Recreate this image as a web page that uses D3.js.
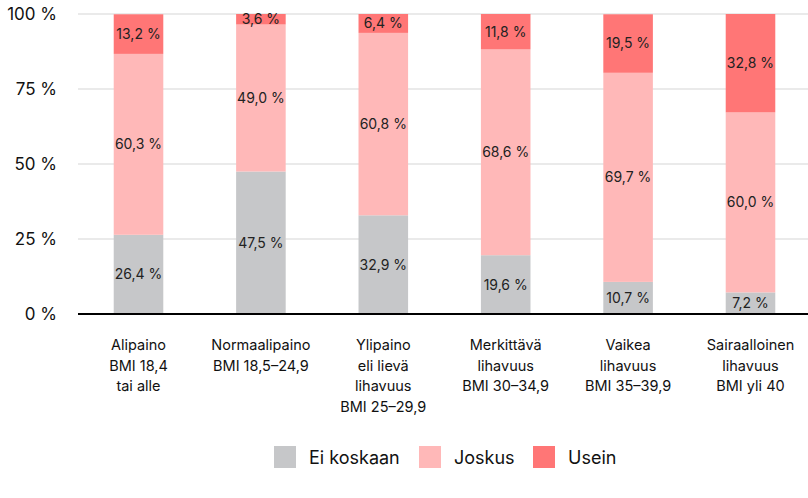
<!DOCTYPE html>
<html><head><meta charset="utf-8">
<script src="https://cdn.jsdelivr.net/npm/d3@7"></script>
<style>body{margin:0;background:#fff}svg{display:block}text{font-family:Inter,"Noto Sans",sans-serif}</style>
</head><body>
<svg id="c" width="808" height="498"></svg>
<script>
const categories = [
  ["Alipaino","BMI 18,4","tai alle"],
  ["Normaalipaino","BMI 18,5–24,9"],
  ["Ylipaino","eli lievä","lihavuus","BMI 25–29,9"],
  ["Merkittävä","lihavuus","BMI 30–34,9"],
  ["Vaikea","lihavuus","BMI 35–39,9"],
  ["Sairaalloinen","lihavuus","BMI yli 40"]
];
const seriesNames = ["Ei koskaan","Joskus","Usein"];
const eiKoskaan = [26.4, 47.5, 32.9, 19.6, 10.7, 7.2];
const joskus = [60.3, 49.0, 60.8, 68.6, 69.7, 60.0];
const usein = [13.2, 3.6, 6.4, 11.8, 19.5, 32.8];
const yTicks = [0, 25, 50, 75, 100];
const colors = ["#c6c7c9", "#ffb8b8", "#ff7676"];

const svg = d3.select("#c");
const W = 808, H = 498;
const m = {left: 78, top: 14, bottom: 184};
const x = d3.scaleBand().domain(d3.range(categories.length)).range([77, 812]).paddingInner(0.595).paddingOuter(0.3);
const y = d3.scaleLinear().domain([0, 100]).range([H - m.bottom, m.top]);

// gridlines
svg.append("g").selectAll("line").data(yTicks.filter(d => d > 0)).join("line")
  .attr("x1", m.left).attr("x2", W).attr("y1", d => y(d)).attr("y2", d => y(d))
  .attr("stroke", "#e3e3e3").attr("stroke-width", 1.5);

// y labels
svg.append("g").selectAll("text").data(yTicks).join("text")
  .attr("x", 57).attr("y", d => y(d)).attr("dy", "0.35em").attr("text-anchor", "end")
  .attr("font-size", 17).attr("fill", "#111").text(d => d + " %");

const rows = categories.map((c, i) => ({i, v: [eiKoskaan[i], joskus[i], usein[i]]}));
const stack = d3.stack().keys([0, 1, 2]).value((d, k) => d.v[k]);
const layers = stack(rows);

const g = svg.append("g");
layers.forEach((layer, k) => {
  g.selectAll(null).data(layer).join("rect")
    .attr("x", d => x(d.data.i)).attr("width", x.bandwidth())
    .attr("y", d => y(Math.min(d[1], 100))).attr("height", d => y(d[0]) - y(Math.min(d[1], 100)))
    .attr("fill", colors[k]);
});
layers.forEach((layer, k) => {
  g.selectAll(null).data(layer).join("text")
    .attr("x", d => x(d.data.i) + x.bandwidth() / 2)
    .attr("y", d => y((d[0] + Math.min(d[1], 100)) / 2)).attr("dy", "0.35em")
    .attr("text-anchor", "middle").attr("font-size", 14).attr("fill", "#222")
    .text(d => d.data.v[k].toFixed(1).replace(".", ",") + " %");
});

// baseline
svg.append("line").attr("x1", m.left).attr("x2", W).attr("y1", y(0)).attr("y2", y(0))
  .attr("stroke", "#000").attr("stroke-width", 2);

// x labels
const xl = svg.append("g");
categories.forEach((lines, i) => {
  const t = xl.append("text").attr("text-anchor", "middle").attr("font-size", 14.5).attr("fill", "#111");
  lines.forEach((ln, j) => {
    t.append("tspan").attr("x", x(i) + x.bandwidth() / 2).attr("y", 345 + j * 20.5).attr("dy", "0.35em").text(ln);
  });
});

// legend
const legendX = [274, 419, 533];
const lg = svg.append("g");
seriesNames.forEach((n, k) => {
  lg.append("rect").attr("x", legendX[k]).attr("y", 446).attr("width", 22).attr("height", 22).attr("fill", colors[k]);
  lg.append("text").attr("x", legendX[k] + 35).attr("y", 458).attr("dy", "0.35em")
    .attr("font-size", 18).attr("fill", "#111").text(n);
});
</script>
</body></html>
